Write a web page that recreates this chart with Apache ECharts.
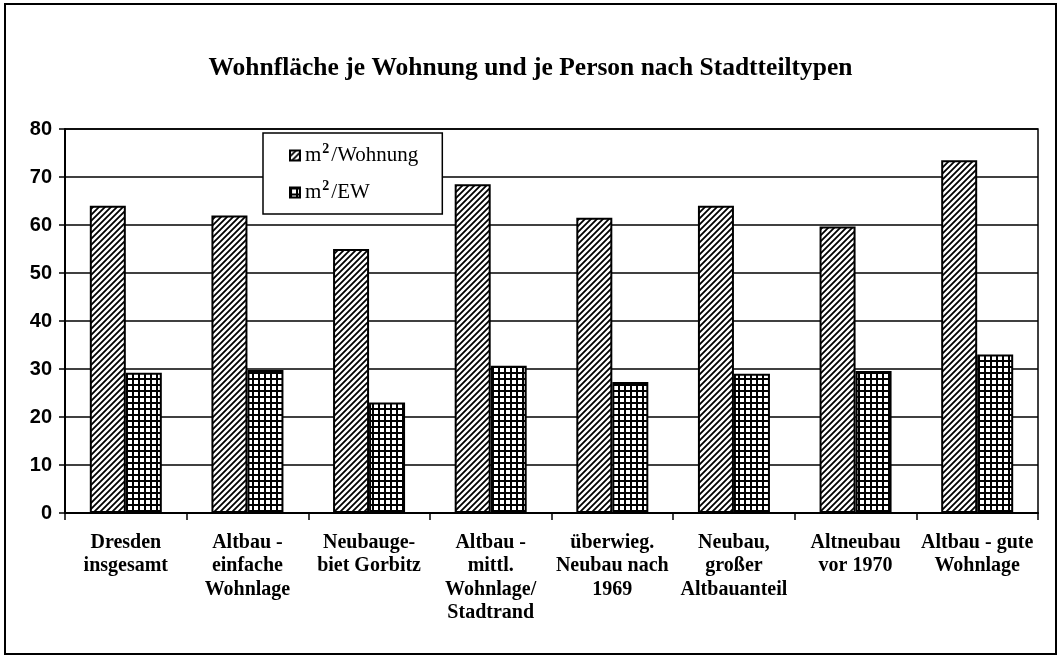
<!DOCTYPE html>
<html>
<head>
<meta charset="utf-8">
<title>Wohnfläche je Wohnung und je Person</title>
<script src="https://cdn.jsdelivr.net/npm/echarts@6/dist/echarts.min.js"></script>
<style>
    html, body { margin: 0; padding: 0; background: #fff; }
    #chart1 { width: 1061px; height: 661px; }
</style>
</head>
<body>
<div id="chart1"></div>
<script>
// Kategorien (Stadtteiltypen)
var categories = [
    'Dresden\ninsgesamt',
    'Altbau -\neinfache\nWohnlage',
    'Neubauge-\nbiet Gorbitz',
    'Altbau -\nmittl.\nWohnlage/\nStadtrand',
    'überwieg.\nNeubau nach\n1969',
    'Neubau,\ngroßer\nAltbauanteil',
    'Altneubau\nvor 1970',
    'Altbau - gute\nWohnlage'
];
var seriesNames = ['m2/Wohnung', 'm2/EW'];
var perFlat = [64, 62, 55, 68.5, 61.5, 64, 59.7, 73.5];   // m²/Wohnung
var perPerson = [29.2, 29.8, 23, 30.7, 27.3, 29, 29.6, 33]; // m²/EW
var yTicks = [0, 10, 20, 30, 40, 50, 60, 70, 80];

var serif = '"Liberation Serif", "Times New Roman", serif';
var sans = '"Liberation Sans", Arial, sans-serif';

// schraffur ////
function makeHatch() {
    var s = 6;
    var c = document.createElement('canvas');
    c.width = s; c.height = s;
    var ctx = c.getContext('2d');
    ctx.fillStyle = '#fff';
    ctx.fillRect(0, 0, s, s);
    ctx.strokeStyle = '#000';
    ctx.lineWidth = 1.8;
    ctx.beginPath();
    ctx.moveTo(-s, s); ctx.lineTo(s, -s);
    ctx.moveTo(0, s); ctx.lineTo(s, 0);
    ctx.moveTo(0, 2 * s); ctx.lineTo(2 * s, 0);
    ctx.stroke();
    return c;
}

// gitter ####
function makeGrid() {
    var s = 6;
    var c = document.createElement('canvas');
    c.width = s; c.height = s;
    var ctx = c.getContext('2d');
    ctx.fillStyle = '#fff';
    ctx.fillRect(0, 0, s, s);
    ctx.fillStyle = '#000';
    ctx.fillRect(0, 0, s, 2);
    ctx.fillRect(0, 0, 2, s);
    return c;
}

function drawChart() {
    var myChart = echarts.init(document.getElementById('chart1'));
    var hatch = { image: makeHatch(), repeat: 'repeat' };
    var grid = { image: makeGrid(), repeat: 'repeat' };

    var option = {
        backgroundColor: '#fff',
        animation: false,
        title: {
            text: 'Wohnfläche je Wohnung und je Person nach Stadtteiltypen',
            left: 'center',
            top: 50,
            textStyle: {
                fontFamily: serif,
                fontWeight: 'bold',
                fontSize: 25.5,
                color: '#000'
            }
        },
        // rahmen um das ganze bild
        graphic: [{
            type: 'rect',
            shape: { x: 5, y: 4, width: 1051, height: 650 },
            style: { fill: 'none', stroke: '#000', lineWidth: 2 },
            silent: true
        }],
        legend: {
            orient: 'vertical',
            left: 263,
            top: 133,
            padding: [9, 24, 8, 26],
            itemGap: 10,
            itemWidth: 10,
            itemHeight: 10,
            icon: 'rect',
            backgroundColor: '#fff',
            borderColor: '#000',
            borderWidth: 1.5,
            borderRadius: 0,
            data: seriesNames,
            formatter: function (name) {
                return 'm{sup|2}' + name.slice(2);
            },
            textStyle: {
                fontFamily: serif,
                fontSize: 21,
                lineHeight: 27,
                color: '#000',
                rich: {
                    sup: {
                        fontFamily: serif,
                        fontSize: 14,
                        fontWeight: 'bold',
                        verticalAlign: 'top',
                        lineHeight: 14,
                        padding: [0, 2, 12, 1],
                        color: '#000'
                    }
                }
            }
        },
        grid: {
            left: 65,
            top: 129,
            right: 23,
            bottom: 148,
            show: true,
            borderColor: '#000',
            borderWidth: 1.5
        },
        xAxis: {
            type: 'category',
            data: categories,
            axisLine: { lineStyle: { color: '#000', width: 2 } },
            axisTick: { show: true, length: 7, lineStyle: { color: '#000', width: 1.5 } },
            axisLabel: {
                interval: 0,
                margin: 18,
                lineHeight: 23.5,
                fontFamily: serif,
                fontWeight: 'bold',
                fontSize: 20,
                color: '#000'
            }
        },
        yAxis: {
            type: 'value',
            min: yTicks[0],
            max: yTicks[yTicks.length - 1],
            interval: 10,
            axisLine: { show: true, lineStyle: { color: '#000', width: 2 } },
            axisTick: { show: true, length: 6, lineStyle: { color: '#000', width: 1.5 } },
            splitLine: { show: true, lineStyle: { color: '#000', width: 1.5 } },
            axisLabel: {
                margin: 13,
                fontFamily: sans,
                fontWeight: 'bold',
                fontSize: 20,
                color: '#000'
            }
        },
        series: [
            {
                name: seriesNames[0],
                type: 'bar',
                barWidth: 36,
                barGap: '0%',
                itemStyle: { color: hatch, borderColor: '#000', borderWidth: 2 },
                data: perFlat
            },
            {
                name: seriesNames[1],
                type: 'bar',
                barWidth: 36,
                barGap: '0%',
                itemStyle: { color: grid, borderColor: '#000', borderWidth: 2 },
                data: perPerson
            }
        ]
    };
    myChart.setOption(option);
}

drawChart();
</script>
</body>
</html>
